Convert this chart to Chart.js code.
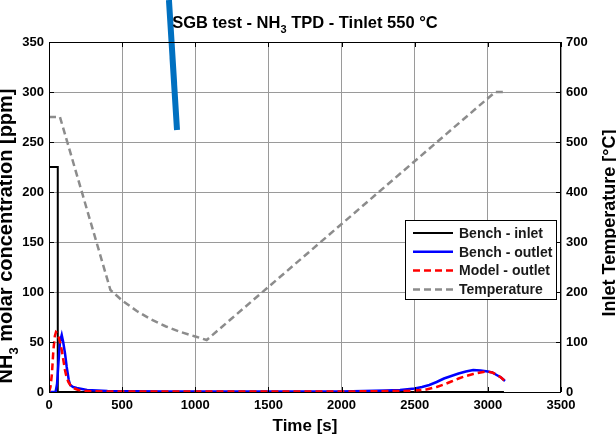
<!DOCTYPE html>
<html>
<head>
<meta charset="utf-8">
<script src="https://cdn.jsdelivr.net/npm/chart.js@4"></script>
<style>
  html, body { margin: 0; padding: 0; background: #fff; }
  #wrap { width: 616px; height: 440px; }
</style>
</head>
<body>
<div id="wrap"><canvas id="c" width="616" height="440"></canvas></div>
<script>
// data
const timeInlet = [0, 0, 60, 60, 3110];
const benchInlet = [0, 225, 225, 0, 0];

const timeOutlet = [0, 45, 55, 65, 75, 87, 97, 110, 121, 135, 145, 165, 190, 260, 400, 800, 1200, 1600, 2000, 2300, 2400, 2500, 2550, 2600, 2650, 2700, 2750, 2800, 2850, 2900, 2950, 3000, 3030, 3060, 3090, 3117];
const benchOutlet = [0, 0, 8, 30, 50, 57, 50, 38, 25, 12, 7, 5, 4, 2, 1, 0.5, 0.5, 0.5, 0.5, 1.5, 2, 3.5, 5, 7, 10, 13.5, 16, 18.5, 20.5, 22, 21.5, 20.5, 19.5, 17, 14.5, 11];

const timeModel = [0, 10, 20, 30, 40, 48, 56, 64, 75, 87, 98, 109, 120, 132, 150, 166, 200, 240, 400, 800, 1200, 1600, 2000, 2400, 2500, 2580, 2650, 2700, 2750, 2800, 2850, 2900, 2950, 2990, 3030, 3060, 3090, 3117];
const modelOutlet = [0, 5, 18, 42, 56, 60, 59, 56, 50, 42, 32, 22, 15, 10, 6, 4, 2, 1, 0.5, 0.5, 0.5, 0.5, 0.5, 1, 1.5, 2.5, 5, 7.5, 10.5, 13.5, 16, 18, 19.5, 20.5, 19.5, 17.5, 14.5, 11];

const timeTemp = [0, 75, 420, 500, 600, 700, 800, 900, 1000, 1078, 3050, 3105];
const temperature = [550, 550, 204, 183, 162, 145, 131, 120, 111, 104, 600, 600];

// blue marker stroke pasted over the original figure
const markTime = [820, 875];
const markValue = [392, 262];

const seriesLabels = ['Bench - inlet', 'Bench - outlet', 'Model - outlet', 'Temperature'];

const FONT = "Arial, 'Liberation Sans', sans-serif";

function pts(xs, ys) {
  return xs.map((x, i) => ({ x: x, y: ys[i] }));
}

// custom texts, box, inward ticks and legend (MATLAB look)
const matlabLook = {
  id: 'matlabLook',
  afterDatasetsDraw(chart) {
    const ctx = chart.ctx;
    const a = chart.chartArea;
    const sx = chart.scales.x, sy = chart.scales.y, sy2 = chart.scales.y2;
    ctx.save();

    // box
    ctx.strokeStyle = '#000';
    ctx.lineWidth = 1;
    ctx.strokeRect(a.left + 0.5, a.top + 0.5, a.right - a.left - 1, a.bottom - a.top);

    // inward tick marks
    ctx.beginPath();
    sx.ticks.forEach(t => {
      const px = Math.round(sx.getPixelForValue(t.value)) + 0.5;
      ctx.moveTo(px, a.bottom); ctx.lineTo(px, a.bottom - 5);
      ctx.moveTo(px, a.top); ctx.lineTo(px, a.top + 5);
    });
    sy.ticks.forEach(t => {
      const py = Math.round(sy.getPixelForValue(t.value)) + 0.5;
      ctx.moveTo(a.left, py); ctx.lineTo(a.left + 5, py);
    });
    sy2.ticks.forEach(t => {
      const py = Math.round(sy2.getPixelForValue(t.value)) + 0.5;
      ctx.moveTo(a.right, py); ctx.lineTo(a.right - 5, py);
    });
    ctx.stroke();

    // legend
    const lx = 405, ly = 220, lw = 151, lh = 79;
    ctx.fillStyle = '#fff';
    ctx.fillRect(lx, ly, lw, lh);
    ctx.strokeStyle = '#000';
    ctx.lineWidth = 1;
    ctx.strokeRect(lx + 0.5, ly + 0.5, lw, lh);
    ctx.font = 'bold 14px ' + FONT;
    ctx.textBaseline = 'middle';
    ctx.textAlign = 'left';
    for (let i = 0; i < seriesLabels.length; i++) {
      const ds = chart.data.datasets[i];
      const yy = ly + 13 + i * 18.8;
      ctx.beginPath();
      ctx.strokeStyle = ds.borderColor;
      ctx.lineWidth = ds.borderWidth;
      ctx.setLineDash(ds.borderDash || []);
      ctx.moveTo(lx + 8, yy);
      ctx.lineTo(lx + 48, yy);
      ctx.stroke();
      ctx.setLineDash([]);
      ctx.fillStyle = '#1a1a1a';
      ctx.fillText(ds.label, lx + 54, yy + 1);
    }

    // title with subscript
    ctx.fillStyle = '#000';
    ctx.textBaseline = 'alphabetic';
    const big = 'bold 16.5px ' + FONT, small = 'bold 11px ' + FONT;
    const t1 = 'SGB test - NH', t2 = '3', t3 = ' TPD - Tinlet 550 \u00B0C';
    ctx.font = big; const w1 = ctx.measureText(t1).width, w3 = ctx.measureText(t3).width;
    ctx.font = small; const w2 = ctx.measureText(t2).width;
    let tx = (a.left + a.right) / 2 - (w1 + w2 + w3) / 2;
    const ty = 28;
    ctx.font = big; ctx.fillText(t1, tx, ty); tx += w1;
    ctx.font = small; ctx.fillText(t2, tx, ty + 5); tx += w2;
    ctx.font = big; ctx.fillText(t3, tx, ty);

    // x label
    ctx.font = 'bold 17px ' + FONT;
    ctx.textAlign = 'center';
    ctx.fillText('Time [s]', (a.left + a.right) / 2, 431);

    // left label, rotated
    ctx.save();
    ctx.translate(12, 236);
    ctx.rotate(-Math.PI / 2);
    const b = 'bold 20px ' + FONT, s = 'bold 13px ' + FONT;
    const l1 = 'NH', l2 = '3', l3 = ' molar concentration [ppm]';
    ctx.font = b; const m1 = ctx.measureText(l1).width, m3 = ctx.measureText(l3).width;
    ctx.font = s; const m2 = ctx.measureText(l2).width;
    let lxp = -(m1 + m2 + m3) / 2;
    ctx.textAlign = 'left';
    ctx.font = b; ctx.fillText(l1, lxp, 0); lxp += m1;
    ctx.font = s; ctx.fillText(l2, lxp, 6); lxp += m2;
    ctx.font = b; ctx.fillText(l3, lxp, 0);
    ctx.restore();

    // right label, rotated
    ctx.save();
    ctx.translate(615, 223);
    ctx.rotate(-Math.PI / 2);
    ctx.font = 'bold 18px ' + FONT;
    ctx.textAlign = 'center';
    ctx.fillText('Inlet Temperature [\u00B0C]', 0, 0);
    ctx.restore();

    ctx.restore();
  }
};

const tickFont = { family: FONT, size: 13, weight: 'bold' };
const plainNumber = v => String(v);

const canvas = document.getElementById('c');

new Chart(canvas, {
  type: 'line',
  data: {
    datasets: [
      {
        label: seriesLabels[0],
        data: pts(timeInlet, benchInlet),
        borderColor: '#000000',
        borderWidth: 2,
        yAxisID: 'y',
        order: 3,
      },
      {
        label: seriesLabels[1],
        data: pts(timeOutlet, benchOutlet),
        borderColor: '#0000ff',
        borderWidth: 2.5,
        yAxisID: 'y',
        order: 2,
      },
      {
        label: seriesLabels[2],
        data: pts(timeModel, modelOutlet),
        borderColor: '#ff0000',
        borderWidth: 2.5,
        borderDash: [7, 4],
        yAxisID: 'y',
        order: 1,
      },
      {
        label: seriesLabels[3],
        data: pts(timeTemp, temperature),
        borderColor: '#8c8c8c',
        borderWidth: 2.5,
        borderDash: [7, 4],
        yAxisID: 'y2',
        order: 0,
      },
      {
        label: 'mark',
        data: pts(markTime, markValue),
        borderColor: '#0070c0',
        borderWidth: 6,
        borderCapStyle: 'butt',
        yAxisID: 'y',
        clip: false,
        order: -1,
      },
    ],
  },
  options: {
    responsive: false,
    animation: false,
    elements: {
      point: { radius: 0 },
      line: { tension: 0, fill: false },
    },
    layout: { padding: { top: 42, left: 0, right: 0, bottom: 0 } },
    plugins: {
      legend: { display: false },
      tooltip: { enabled: false },
      title: { display: false },
    },
    scales: {
      x: {
        type: 'linear',
        min: 0,
        max: 3500,
        afterFit: s => { s.height = 48; },
        ticks: {
          stepSize: 500,
          padding: 6,
          color: '#000',
          maxRotation: 0,
          font: tickFont,
          callback: plainNumber,
        },
        grid: { color: '#9a9a9a', lineWidth: 1, drawTicks: false },
        border: { display: false },
      },
      y: {
        type: 'linear',
        position: 'left',
        min: 0,
        max: 350,
        afterFit: s => { s.width = 49; },
        ticks: {
          stepSize: 50,
          padding: 5,
          color: '#000',
          font: tickFont,
          callback: plainNumber,
        },
        grid: { color: '#9a9a9a', lineWidth: 1, drawTicks: false },
        border: { display: false },
      },
      y2: {
        type: 'linear',
        position: 'right',
        min: 0,
        max: 700,
        afterFit: s => { s.width = 55; },
        ticks: {
          stepSize: 100,
          padding: 5,
          color: '#000',
          font: tickFont,
          callback: plainNumber,
        },
        grid: { display: false, drawTicks: false },
        border: { display: false },
      },
    },
  },
  plugins: [matlabLook],
});
</script>
</body>
</html>
